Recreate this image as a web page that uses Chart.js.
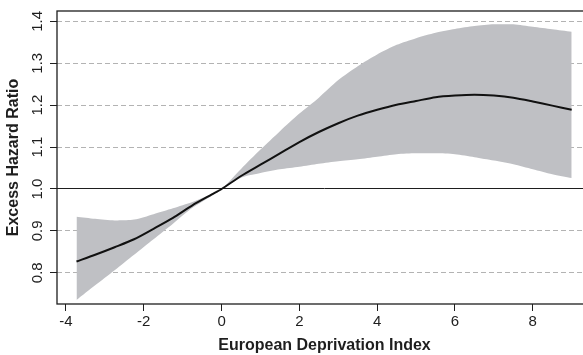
<!DOCTYPE html>
<html>
<head>
<meta charset="utf-8">
<script src="https://cdn.jsdelivr.net/npm/chart.js@4.4.1/dist/chart.umd.min.js"></script>
<style>
  html, body { margin: 0; padding: 0; background: #ffffff; overflow: hidden; width: 583px; height: 355px; }
  canvas { display: block; }
</style>
</head>
<body>
<canvas id="ehr" width="592" height="355"></canvas>
<script>
// European Deprivation Index values at which the smoothed effect is evaluated
const EDI = [-3.73, -3.25, -2.75, -2.25, -1.75, -1.25, -0.75, -0.25, 0, 0.5, 1, 1.5, 2, 2.5, 3, 3.5, 4, 4.5, 5, 5.5, 6, 6.5, 7, 7.5, 8, 8.5, 9];
// Excess hazard ratio (reference EDI = 0)
const EHR = [0.827, 0.843, 0.861, 0.880, 0.905, 0.931, 0.961, 0.987, 1.000, 1.031, 1.058, 1.085, 1.112, 1.136, 1.157, 1.175, 1.189, 1.201, 1.210, 1.219, 1.223, 1.225, 1.223, 1.218, 1.209, 1.199, 1.189];
// 95% confidence band
const EHR_LOWER = [0.735, 0.770, 0.806, 0.843, 0.880, 0.917, 0.955, 0.984, 1.000, 1.027, 1.038, 1.047, 1.053, 1.060, 1.066, 1.071, 1.077, 1.083, 1.085, 1.085, 1.083, 1.076, 1.068, 1.059, 1.047, 1.035, 1.026];
const EHR_UPPER = [0.934, 0.929, 0.925, 0.927, 0.940, 0.954, 0.969, 0.988, 1.000, 1.048, 1.094, 1.138, 1.180, 1.218, 1.260, 1.293, 1.321, 1.344, 1.360, 1.373, 1.382, 1.389, 1.393, 1.393, 1.387, 1.381, 1.375];

const X_TICKS = [-4, -2, 0, 2, 4, 6, 8];
const Y_TICKS = [0.8, 0.9, 1.0, 1.1, 1.2, 1.3, 1.4];
const REFERENCE_RATIO = 1.0;
const X_RANGE = [-4.231, 9.522];
const Y_RANGE = [0.7255, 1.4248];
const X_TITLE = 'European Deprivation Index';
const Y_TITLE = 'Excess Hazard Ratio';

const FONT = '"Liberation Sans", Arial, Helvetica, sans-serif';
const INK = '#1e1e1e';

const toPoints = ys => EDI.map((x, i) => ({ x: x, y: ys[i] }));

// plot frame drawn round the whole plotting region
const framePlugin = {
  id: 'frame',
  afterDatasetsDraw(chart) {
    const { ctx, chartArea: a } = chart;
    ctx.save();
    ctx.strokeStyle = INK;
    ctx.lineWidth = 1.3;
    ctx.strokeRect(a.left, a.top, a.right - a.left, a.bottom - a.top);
    ctx.restore();
  }
};

const isRef = c => c.tick && Math.abs(c.tick.value - REFERENCE_RATIO) < 1e-9;

new Chart(document.getElementById('ehr'), {
  type: 'line',
  data: {
    datasets: [
      {
        label: 'EHR',
        data: toPoints(EHR),
        order: 0,
        borderColor: '#111111',
        borderWidth: 2,
        pointRadius: 0,
        tension: 0.25,
        fill: false
      },
      {
        label: 'upper',
        data: toPoints(EHR_UPPER),
        order: 1,
        borderWidth: 0,
        pointRadius: 0,
        tension: 0.25,
        fill: '+1',
        backgroundColor: '#bfc0c4'
      },
      {
        label: 'lower',
        data: toPoints(EHR_LOWER),
        order: 2,
        borderWidth: 0,
        pointRadius: 0,
        tension: 0.25,
        fill: false
      }
    ]
  },
  options: {
    responsive: false,
    animation: false,
    events: [],
    layout: { padding: { top: 11, left: 0, right: 0, bottom: 0 } },
    plugins: { legend: { display: false }, tooltip: { enabled: false } },
    scales: {
      x: {
        type: 'linear',
        min: X_RANGE[0],
        max: X_RANGE[1],
        afterBuildTicks: s => { s.ticks = X_TICKS.map(v => ({ value: v })); },
        afterFit: s => { s.height = 51; },
        border: { display: false },
        grid: { drawOnChartArea: false, drawTicks: true, tickLength: 7, tickColor: INK, tickWidth: 1 },
        ticks: {
          padding: 2,
          maxRotation: 0,
          autoSkip: false,
          color: INK,
          font: { family: FONT, size: 15 },
          callback: v => String(v)
        },
        title: {
          display: true,
          text: X_TITLE,
          color: INK,
          font: { family: FONT, size: 16, weight: 'bold' },
          padding: { top: 0, bottom: 0 }
        }
      },
      y: {
        type: 'linear',
        min: Y_RANGE[0],
        max: Y_RANGE[1],
        afterBuildTicks: s => { s.ticks = Y_TICKS.map(v => ({ value: v })); },
        afterFit: s => { s.width = 57; },
        border: {
          display: false,
          dash: c => isRef(c) ? [] : [5, 3]
        },
        grid: {
          drawOnChartArea: true,
          drawTicks: true,
          tickLength: 7,
          tickColor: INK,
          tickWidth: 1,
          lineWidth: 1,
          color: c => isRef(c) ? INK : '#b3b3b3'
        },
        ticks: {
          padding: 2,
          minRotation: 90,
          maxRotation: 90,
          crossAlign: 'center',
          autoSkip: false,
          color: INK,
          font: { family: FONT, size: 15 },
          callback: v => v.toFixed(1)
        },
        title: {
          display: true,
          text: Y_TITLE,
          color: INK,
          font: { family: FONT, size: 16, weight: 'bold' },
          padding: { top: 4, bottom: 0 }
        }
      }
    }
  },
  plugins: [framePlugin]
});
</script>
</body>
</html>
